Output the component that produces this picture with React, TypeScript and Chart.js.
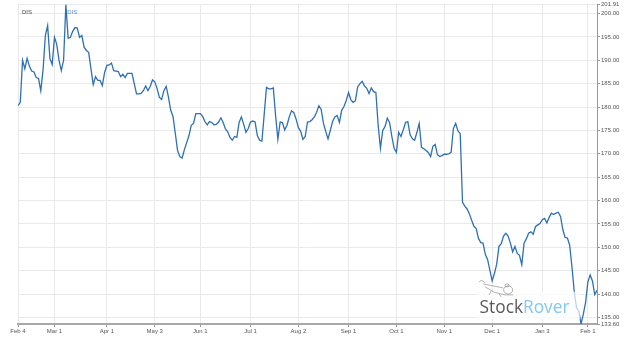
import React, { useEffect, useRef } from "react";
import { Chart, registerables } from "chart.js";

Chart.register(...registerables);

// Trading-day index of each x-axis label (Feb 4 2021 = day 0)
const tickIndex = [0, 16, 39, 60, 80, 102, 123, 145, 166, 187, 208, 230, 250];
const tickLabels = ["Feb 4", "Mar 1", "Apr 1", "May 3", "Jun 1", "Jul 1", "Aug 2", "Sep 1", "Oct 1", "Nov 1", "Dec 1", "Jan 3", "Feb 1"];

const yTicks = [133.6, 135, 140, 145, 150, 155, 160, 165, 170, 175, 180, 185, 190, 195, 200, 201.91];
const yMin = 133.6;
const yMax = 201.91;

const seriesName = "DIS";

// Daily closes, one per trading day
const closes = [
  180.3, 181.0, 190.0, 188.2, 190.4, 188.7, 187.7, 187.5, 186.3, 186.1,
  183.5, 188.0, 195.3, 197.4, 190.4, 189.1, 194.9, 193.4, 190.0, 187.8,
  190.0, 201.91, 194.7, 194.9, 196.2, 197.0, 196.9, 194.9, 195.3, 192.8,
  192.1, 191.7, 188.2, 184.8, 186.5, 185.7, 185.7, 184.6, 187.4, 188.9,
  189.0, 189.4, 187.8, 187.7, 187.6, 186.5, 187.0, 186.3, 187.2, 187.2,
  187.2, 185.0, 182.8, 182.8, 182.9, 183.5, 184.5, 183.5, 184.4, 185.8,
  185.4, 184.0, 182.1, 181.6, 183.5, 184.4, 182.1, 179.3, 178.0, 174.4,
  170.7, 169.4, 169.1, 170.9, 172.4, 173.9, 176.1, 176.5, 178.6, 178.6,
  178.6, 178.0, 176.9, 176.2, 176.9, 176.7, 176.2, 176.3, 176.8, 177.7,
  176.7, 175.3, 174.7, 173.5, 172.9, 173.7, 173.5, 176.7, 177.9, 176.3,
  174.6, 175.4, 176.8, 177.0, 176.8, 173.9, 172.9, 172.7, 178.4, 184.2,
  183.9, 183.9, 184.1, 178.2, 173.1, 176.8, 176.7, 175.1, 176.1, 177.9,
  179.2, 178.8, 177.4, 175.6, 174.8, 173.1, 173.7, 176.8, 176.9, 177.3,
  177.9, 178.9, 180.3, 179.5, 176.5, 174.8, 173.2, 175.0, 176.9, 177.9,
  178.2, 176.7, 179.3, 180.1, 181.4, 183.1, 181.6, 181.0, 181.3, 184.3,
  185.0, 185.5, 184.5, 184.0, 182.9, 184.1, 183.3, 183.1, 176.1, 171.2,
  175.0, 175.8, 177.6, 176.7, 173.7, 171.2, 170.3, 174.6, 173.7, 175.1,
  176.7, 176.9, 174.1, 173.2, 172.9, 174.6, 176.5, 171.4, 171.1, 170.7,
  170.3, 169.4, 171.6, 172.0, 169.8, 169.4, 169.6, 169.9, 169.9, 170.0,
  170.3, 175.4, 176.5, 174.9, 174.3, 159.6, 158.8, 158.2, 157.2, 155.8,
  154.5, 154.0, 151.9, 151.0, 150.9, 148.5, 147.4, 145.1, 142.8, 144.4,
  146.4, 150.2, 150.8, 152.4, 153.0, 152.4, 150.9, 149.0, 150.2, 148.7,
  148.3, 146.3, 150.9, 151.8, 153.0, 153.3, 152.8, 154.4, 154.8, 155.1,
  155.9, 156.2, 155.2, 156.4, 157.3, 157.0, 157.3, 157.5, 156.6, 153.8,
  152.1, 152.0, 150.5, 145.9, 140.6, 137.1, 136.4, 133.6, 135.7, 138.2,
  142.6, 144.1, 142.8, 139.9, 140.8,
];

const overlayPlugin = {
  id: "overlay",
  afterDatasetsDraw(chart: any) {
    const ctx = chart.ctx;
    const xs = chart.scales.x;
    const ys = chart.scales.y;
    ctx.save();
    // watermark box (semi-transparent white)
    const bx0 = xs.getPixelForValue(201);
    const bx1 = xs.getPixelForValue(246.5);
    const by0 = ys.getPixelForValue(140.5);
    const by1 = ys.getPixelForValue(134.6);
    ctx.fillStyle = "rgba(255,255,255,0.7)";
    ctx.fillRect(bx0, by0, bx1 - bx0, by1 - by0);
    // watermark mascot sketch
    const ox = xs.getPixelForValue(202.3);
    const oy = ys.getPixelForValue(142.6);
    ctx.strokeStyle = "rgba(110,110,110,0.75)";
    ctx.lineWidth = 0.7;
    ctx.beginPath();
    // tail
    ctx.moveTo(ox, oy);
    ctx.quadraticCurveTo(ox + 3, oy - 3, ox + 6, oy + 1);
    // back
    ctx.moveTo(ox + 4, oy + 2);
    ctx.quadraticCurveTo(ox + 14, oy + 4, ox + 24, oy + 6);
    // belly
    ctx.moveTo(ox + 6, oy + 5);
    ctx.quadraticCurveTo(ox + 15, oy + 12, ox + 26, oy + 13);
    // legs
    ctx.moveTo(ox + 12, oy + 9);
    ctx.lineTo(ox + 10, oy + 13);
    ctx.moveTo(ox + 20, oy + 12);
    ctx.lineTo(ox + 22, oy + 15);
    ctx.moveTo(ox + 26, oy + 13);
    ctx.lineTo(ox + 34, oy + 13);
    ctx.stroke();
    // head
    ctx.beginPath();
    ctx.ellipse(ox + 29, oy + 8, 4.5, 4, 0, 0, Math.PI * 2);
    ctx.stroke();
    ctx.beginPath();
    ctx.ellipse(ox + 28, oy + 3.5, 2, 1.5, 0, 0, Math.PI * 2);
    ctx.stroke();
    // watermark text
    const targetW = 90;
    ctx.font = '18px "Open Sans"';
    const w1 = ctx.measureText("Stock").width;
    const w2 = ctx.measureText("Rover").width;
    const size = (18 * targetW) / (w1 + w2);
    ctx.font = `${size}px "Open Sans"`;
    const a = ctx.measureText("Stock").width;
    const tx = xs.getPixelForValue(202.5);
    const ty = ys.getPixelForValue(135.9);
    ctx.textBaseline = "alphabetic";
    ctx.textAlign = "left";
    ctx.fillStyle = "#5a5a5a";
    ctx.fillText("Stock", tx, ty);
    ctx.fillStyle = "#86c8f0";
    ctx.fillText("Rover", tx + a, ty);
    // series labels
    ctx.font = '6px "Liberation Sans", Arial, sans-serif';
    ctx.textBaseline = "middle";
    ctx.fillStyle = "#444";
    ctx.fillText(seriesName, chart.chartArea.left + 4, chart.chartArea.top + 7.5);
    ctx.fillStyle = "#5b8fc7";
    ctx.fillText(seriesName, xs.getPixelForValue(21) + 1.5, chart.chartArea.top + 7.5);
    ctx.restore();
  },
};

export default function App() {
  const ref = useRef<HTMLCanvasElement | null>(null);
  useEffect(() => {
    document.body.style.margin = "0";
    const canvas = ref.current;
    if (!canvas) return;
    const chart = new Chart(canvas, {
      type: "line",
      data: {
        datasets: [
          {
            label: seriesName,
            data: closes.map((c, i) => ({ x: i, y: c })),
            borderColor: "#2f6fb3",
            borderWidth: 1.3,
            pointRadius: 0,
            tension: 0,
            fill: false,
          },
        ],
      },
      options: {
        responsive: false,
        animation: false,
        layout: { padding: { top: 4, left: 18, right: 0, bottom: 0 } },
        plugins: { legend: { display: false }, tooltip: { enabled: false } },
        scales: {
          x: {
            type: "linear",
            min: 0,
            max: 254,
            afterBuildTicks: (s: any) => {
              s.ticks = tickIndex.map((v) => ({ value: v }));
            },
            afterFit: (s: any) => {
              s.height = 17;
            },
            ticks: {
              autoSkip: false,
              maxRotation: 0,
              padding: 1,
              color: "#555",
              font: { size: 6, family: '"Liberation Sans", Arial, sans-serif' },
              callback: (v: any) => {
                const k = tickIndex.indexOf(v);
                return k >= 0 ? tickLabels[k] : "";
              },
            },
            grid: { color: "#e9e9e9", lineWidth: 1, tickLength: 3, tickColor: "#999" },
            border: { color: "#a8a8a8", width: 2 },
          },
          y: {
            position: "right",
            min: yMin,
            max: yMax,
            afterBuildTicks: (s: any) => {
              s.ticks = yTicks.map((v) => ({ value: v }));
            },
            afterFit: (s: any) => {
              s.width = 27;
            },
            ticks: {
              padding: 1,
              color: "#555",
              font: { size: 6, family: '"Liberation Sans", Arial, sans-serif' },
              callback: (v: any) => Number(v).toFixed(2),
            },
            grid: { color: "#e9e9e9", lineWidth: 1, tickLength: 3, tickColor: "#999" },
            border: { color: "#999", width: 1 },
          },
        },
      },
      plugins: [overlayPlugin],
    } as any);
    return () => chart.destroy();
  }, []);
  return <canvas ref={ref} width={624} height={341} style={{ display: "block" }} />;
}
